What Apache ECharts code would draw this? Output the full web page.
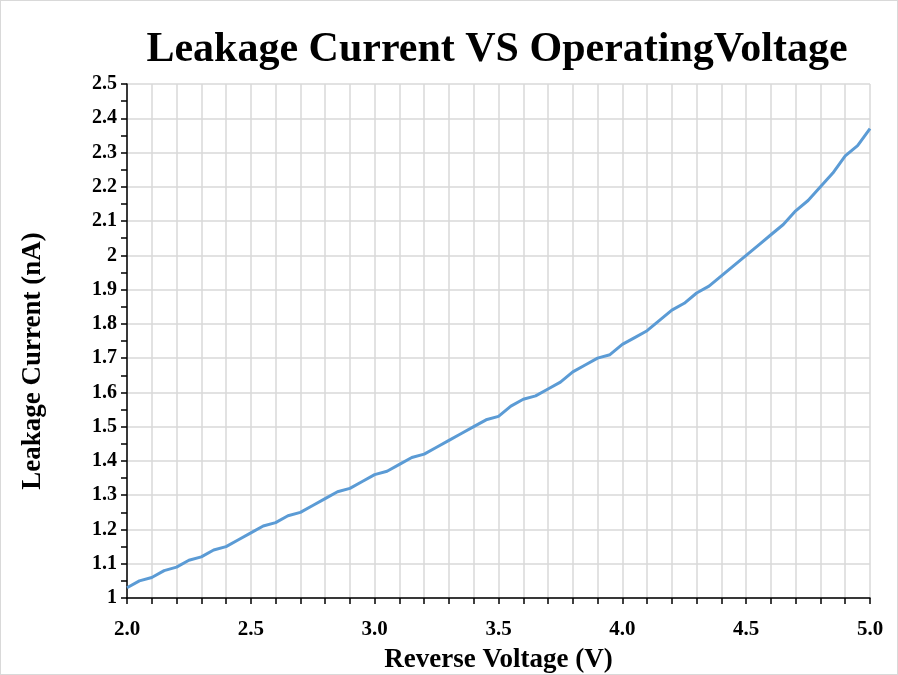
<!DOCTYPE html>
<html><head><meta charset="utf-8">
<script src="https://cdn.jsdelivr.net/npm/echarts@6/dist/echarts.min.js"></script>
<style>html,body{margin:0;padding:0;background:#fff}#c{width:898px;height:675px;box-sizing:border-box;border:1px solid #d9d9d9}</style>
</head><body><div id="c"></div>
<script>
const voltage = [2.0,2.05,2.1,2.15,2.2,2.25,2.3,2.35,2.4,2.45,2.5,2.55,2.6,2.65,2.7,2.75,2.8,2.85,2.9,2.95,3.0,3.05,3.1,3.15,3.2,3.25,3.3,3.35,3.4,3.45,3.5,3.55,3.6,3.65,3.7,3.75,3.8,3.85,3.9,3.95,4.0,4.05,4.1,4.15,4.2,4.25,4.3,4.35,4.4,4.45,4.5,4.55,4.6,4.65,4.7,4.75,4.8,4.85,4.9,4.95,5.0];
const current = [1.03,1.05,1.06,1.08,1.09,1.11,1.12,1.14,1.15,1.17,1.19,1.21,1.22,1.24,1.25,1.27,1.29,1.31,1.32,1.34,1.36,1.37,1.39,1.41,1.42,1.44,1.46,1.48,1.50,1.52,1.53,1.56,1.58,1.59,1.61,1.63,1.66,1.68,1.70,1.71,1.74,1.76,1.78,1.81,1.84,1.86,1.89,1.91,1.94,1.97,2.00,2.03,2.06,2.09,2.13,2.16,2.20,2.24,2.29,2.32,2.37];
const titleText = 'Leakage Current VS OperatingVoltage';
const xName = 'Reverse Voltage (V)';
const yName = 'Leakage Current (nA)';

const font = '"Liberation Serif", "Times New Roman", serif';
const chart = echarts.init(document.getElementById('c'));
chart.setOption({
  animation: false,
  title: {text: titleText, left: 491, top: 23, textAlign: 'center',
    textStyle: {fontFamily: font, fontWeight: 'bold', fontSize: 42, color: '#000'}},
  grid: {left: 126, right: 27, top: 83, bottom: 76, containLabel: false, outerBoundsMode: 'none'},
  xAxis: {type: 'value', min: 2.0, max: 5.0, interval: 0.1,
    name: xName, nameLocation: 'middle', nameGap: 49,
    nameTextStyle: {fontFamily: font, fontWeight: 'bold', fontSize: 27, color: '#000'},
    axisLine: {lineStyle: {color: '#000', width: 1.5}},
    axisTick: {show: true, length: 6, lineStyle: {color: '#000', width: 1.5}},
    axisLabel: {fontFamily: font, fontWeight: 'bold', fontSize: 21, color: '#000', margin: 21,
      formatter: v => { const k = Math.round(v*10); return k % 5 === 0 ? (k/10).toFixed(1) : ''; }},
    splitLine: {show: true, lineStyle: {color: '#d9d9d9', width: 1.5}}},
  yAxis: {type: 'value', min: 1, max: 2.5, interval: 0.1,
    name: yName, nameLocation: 'middle', nameGap: 80, nameRotate: 90,
    nameTextStyle: {fontFamily: font, fontWeight: 'bold', fontSize: 27, color: '#000', padding: [0, 40, 0, 0]},
    axisLine: {show: true, lineStyle: {color: '#000', width: 1.5}},
    axisTick: {show: true, length: 6, lineStyle: {color: '#000', width: 1.5}},
    minorTick: {show: true, splitNumber: 2, length: 6, lineStyle: {color: '#000', width: 1.5}},
    axisLabel: {fontFamily: font, fontWeight: 'bold', fontSize: 20, color: '#000', margin: 10,
      formatter: v => String(Math.round(v*10)/10)},
    splitLine: {show: true, lineStyle: {color: '#d9d9d9', width: 1.5}}},
  series: [{type: 'line', data: voltage.map((v,i)=>[v,current[i]]), showSymbol: false,
    lineStyle: {color: '#5b9bd5', width: 3}, itemStyle: {color: '#5b9bd5'}}]
});
</script></body></html>
